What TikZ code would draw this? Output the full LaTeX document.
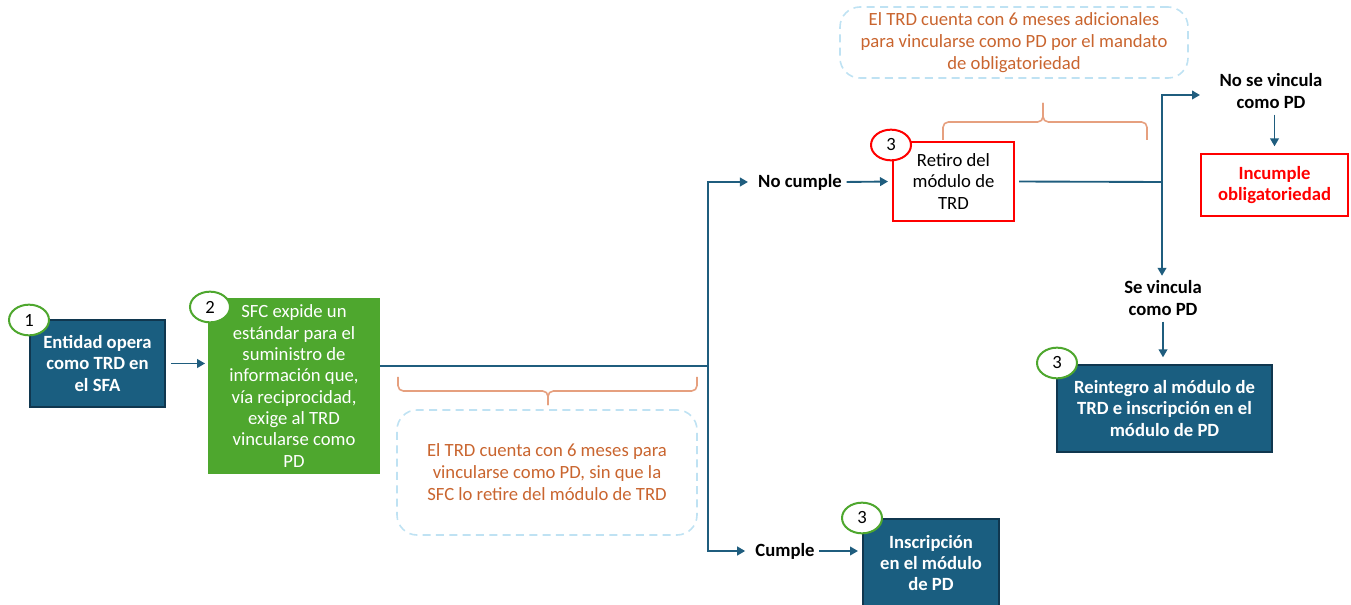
\documentclass[tikz,border=0pt]{standalone}
\usepackage{fontspec}
\setmainfont{Carlito}
\usetikzlibrary{shapes.geometric,arrows.meta}
\definecolor{dblue}{HTML}{1A5E80}
\definecolor{bborder}{HTML}{10374F}
\definecolor{dgreen}{HTML}{4EA72E}
\definecolor{lineblue}{HTML}{1F5D7E}
\definecolor{rred}{HTML}{FF0000}
\definecolor{brc}{HTML}{E6A07F}
\definecolor{dashc}{HTML}{BFE2F3}
\definecolor{otext}{HTML}{C9652F}
\begin{document}
\begin{tikzpicture}[x=0.75pt,y=-0.75pt,
  bluebox/.style={draw=bborder,line width=1.5pt,fill=dblue,text=white,font=\fontsize{14}{16}\selectfont\bfseries,align=center,inner sep=0pt},
  greenbox/.style={fill=dgreen,text=white,font=\fontsize{14}{16}\selectfont,align=center,inner sep=0pt},
  redbox/.style={draw=rred,line width=1.5pt,fill=white,align=center,inner sep=0pt},
  num/.style={ellipse,draw=#1,line width=1.5pt,fill=white,minimum width=30pt,minimum height=23pt,inner sep=0pt,font=\fontsize{14}{16}\selectfont},
  lbl/.style={font=\fontsize{14}{16}\selectfont\bfseries,align=center,inner sep=1.5pt},
  conn/.style={draw=lineblue,line width=1.4pt},
  arr/.style={conn,-{Triangle[length=6pt,width=6.5pt]}},
  brace/.style={draw=brc,line width=1.2pt,rounded corners=4pt},
  dashbox/.style={draw=dashc,line width=1.2pt,dash pattern=on 6pt off 4pt,rounded corners=15pt,text=otext,font=\fontsize{14}{16.5}\selectfont,align=center,inner sep=0pt},
]
\useasboundingbox (0,0) rectangle (1351,605);

% main boxes
\node[bluebox,minimum width=101.25pt,minimum height=65.25pt] (b1) at (97.5,363.5) {Entidad opera\\como TRD en\\el SFA};
\node[greenbox,minimum width=129pt,minimum height=132pt] (b2) at (294,386) {SFC expide un\\estándar para el\\suministro de\\información que,\\vía reciprocidad,\\exige al TRD\\vincularse como\\PD};
\node[redbox,minimum width=90.75pt,minimum height=59.25pt,font=\fontsize{14}{16}\selectfont] (retiro) at (953.5,181.5) {Retiro del\\módulo de\\TRD};
\node[redbox,minimum width=110.25pt,minimum height=46.5pt,text=rred,font=\fontsize{14}{16}\selectfont\bfseries] (incumple) at (1274.5,185) {Incumple\\obligatoriedad};
\node[bluebox,minimum width=161.25pt,minimum height=65.25pt] (reint) at (1164.5,408.5) {Reintegro al módulo de\\TRD e inscripción en el\\módulo de PD};
\node[bluebox,minimum width=102pt,minimum height=66pt] (insc) at (931,563) {Inscripción\\en el módulo\\de PD};

% number badges
\node[num=dgreen] (n1) at (29,320) {1};
\node[num=dgreen] (n2) at (210,307) {2};
\node[num=rred] (n3a) at (891,145) {3};
\node[num=dgreen] (n3b) at (1057,363) {3};
\node[num=dgreen] (n3c) at (862,518) {3};

% labels
\node[lbl] (nocumple) at (800,182) {No cumple};
\node[lbl] (cumple) at (785,551) {Cumple};
\node[lbl] (nose) at (1271,91) {No se vincula\\como PD};
\node[lbl] (sev) at (1163,298) {Se vincula\\como PD};

% notes
\node[dashbox,minimum width=225pt,minimum height=93.75pt] (note1) at (547,472.5) {El TRD cuenta con 6 meses para\\vincularse como PD, sin que la\\SFC lo retire del módulo de TRD};
\node[dashbox,minimum width=261pt,minimum height=53.25pt] (note2) at (1014,42.5) {El TRD cuenta con 6 meses adicionales\\para vincularse como PD por el mandato\\de obligatoriedad};

% connectors
\coordinate (J) at (708,366);
\coordinate (K) at (1162,182);
\draw[arr,shorten <=4pt,shorten >=2pt] (b1.east) -- (b2.west |- b1.east);
\draw[conn] (b2.east |- J) -- (J);
\draw[arr,shorten >=6pt] (J) |- (nocumple.west);
\draw[arr,shorten >=6pt] (J) |- (cumple.west);
\draw[arr,shorten <=2pt,shorten >=3pt] (nocumple.east) -- (retiro.west);
\draw[arr,shorten <=2pt,shorten >=3pt] (cumple.east) -- (insc.west |- cumple.east);
\draw[conn,shorten <=3pt] (retiro.east) -- (K);
\draw[arr] (K) |- (1200,95) coordinate (nosearr);
\draw[arr,shorten >=2pt] (K) -- (K |- sev.north);
\draw[arr,shorten <=3pt,shorten >=5pt] (nose.south -| incumple.north) -- (incumple.north);
\draw[arr,shorten <=3pt,shorten >=5pt] (sev.south) -- (sev.south |- reint.north);

% braces
\draw[brace] (398,377) |- (548,391) -- (548,405);
\draw[brace] (697,377) |- (548,391) -- (548,405);
\draw[brace] (943,140) |- (1043,122) -- (1043,103);
\draw[brace] (1147,140) |- (1043,122) -- (1043,103);
\end{tikzpicture}
\end{document}
